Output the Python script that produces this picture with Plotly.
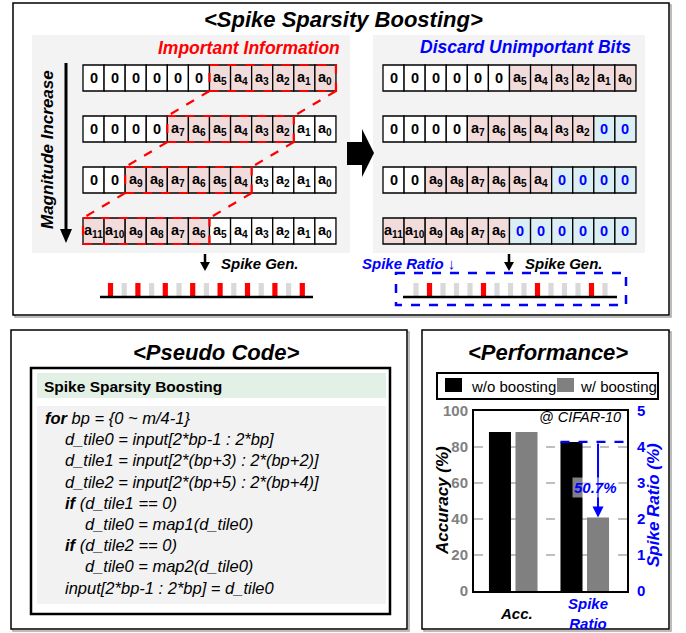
import plotly.graph_objects as go

W, H = 686, 633
FONT = "Liberation Sans, Arial, sans-serif"

# ---------------- data ----------------
N_BITS = 12
ROW_TOP_BIT = [5, 7, 9, 11]          # MSB index of each example word
KEEP_BITS = 6                        # important bits kept per word
LEFT_SPIKES = [1, 0, 1, 0, 1, 0, 1, 0, 1, 0, 1, 0, 1, 0, 1]
RIGHT_SPIKES = [0, 1, 0, 0, 0, 1, 0, 0, 0, 1, 0, 0, 0, 1, 0]

CODE_LINES = [
    "<b>for</b> bp = {0 ~ m/4-1}",
    "d_tile0 = input[2*bp-1 : 2*bp]",
    "d_tile1 = input[2*(bp+3) : 2*(bp+2)]",
    "d_tile2 = input[2*(bp+5) : 2*(bp+4)]",
    "<b>if</b> (d_tile1 == 0)",
    "d_tile0 = map1(d_tile0)",
    "<b>if</b> (d_tile2 == 0)",
    "d_tile0 = map2(d_tile0)",
    "input[2*bp-1 : 2*bp] = d_tile0",
]
CODE_INDENT = [0, 1, 1, 1, 1, 2, 1, 2, 1]

CATEGORIES = ["Acc.", "Spike<br>Ratio"]
SERIES = ["w/o boosting", "w/ boosting"]
ACCURACY = [88.4, 88.4]        # % (w/o, w/)
SPIKE_RATIO = [4.14, 2.04]     # % (w/o, w/)
REDUCTION_LABEL = "50.7%"
ACC_TICKS = [0, 20, 40, 60, 80, 100]
RATIO_TICKS = [0, 1, 2, 3, 4, 5]

# ---------------- styles / layout ----------------
PINK = "#f2dcdb"
LBLUE = "#daeef3"
PANEL = "#f3f3f3"
RED = "#ff0000"
BLUE = "#0000ff"
GRAY = "#808080"
SPIKE_GRAY = "#d9d9d9"

LEFT_X0, RIGHT_X0 = 83, 383
CELL_W, CELL_H = 21.08, 26
ROW_Y0 = [65, 116, 167, 218]

shapes = []
annos = []


def rect(x0, y0, x1, y1, fill=None, line=None, lw=1.0, dash=None, layer="below"):
    d = dict(type="rect", xref="x", yref="y", x0=x0, y0=y0, x1=x1, y1=y1,
             layer=layer, line=dict(width=lw if line else 0, color=line or "rgba(0,0,0,0)"))
    if dash:
        d["line"]["dash"] = dash
    if fill:
        d["fillcolor"] = fill
    shapes.append(d)


def line(x0, y0, x1, y1, color="black", lw=1.0, dash=None, layer="below", xref="x", yref="y"):
    d = dict(type="line", xref=xref, yref=yref, x0=x0, y0=y0, x1=x1, y1=y1, layer=layer,
             line=dict(color=color, width=lw))
    if dash:
        d["line"]["dash"] = dash
    shapes.append(d)


def path(p, fill="black", layer="below"):
    shapes.append(dict(type="path", xref="x", yref="y", path=p, fillcolor=fill,
                       line=dict(width=0), layer=layer))


def text(x, y, t, size=14, color="black", xanchor="center", yanchor="middle", angle=0, **kw):
    a = dict(x=x, y=y, xref=kw.pop("xref", "x"), yref=kw.pop("yref", "y"), text=t,
             showarrow=False, xanchor=xanchor, yanchor=yanchor, textangle=angle,
             font=dict(family=FONT, size=size, color=color))
    a.update(kw)
    annos.append(a)


def box(x0, y0, x1, y1):
    rect(x0 + 2, y0 + 2, x1 + 2, y1 + 2, line="#a6a6a6", lw=1.5)
    rect(x0, y0, x1, y1, fill="white", line="black", lw=1.5)


# ---------- outer boxes ----------
box(13, 3, 669, 315)
box(11, 330, 407, 629)
box(422, 330, 669, 629)

# ---------- top panel ----------
text(343, 19, "<b><i>&lt;Spike Sparsity Boosting&gt;</i></b>", size=22)
rect(32, 35, 350, 253, fill=PANEL)
rect(373, 35, 645, 253, fill=PANEL)
text(249, 48, "<b><i>Important Information</i></b>", size=17.5, color=RED)
text(633, 47, "<b><i>Discard Unimportant Bits</i></b>", size=17.5, color=BLUE, xanchor="right")


def cell_content(r, c, discard):
    top = ROW_TOP_BIT[r]
    bit = N_BITS - 1 - c
    if bit > top:
        return "0", "white", "black"
    if bit > top - KEEP_BITS:
        return "a<sub>%d</sub>" % bit, PINK, "black"
    if discard:
        return "0", LBLUE, BLUE
    return "a<sub>%d</sub>" % bit, "white", "black"


for side, x0 in ((False, LEFT_X0), (True, RIGHT_X0)):
    for r, y0 in enumerate(ROW_Y0):
        for c in range(N_BITS):
            lbl, fill, col = cell_content(r, c, side)
            cx = x0 + c * CELL_W
            rect(cx, y0, cx + CELL_W, y0 + CELL_H, fill=fill, line="black", lw=1.3)
            text(cx + CELL_W / 2, y0 + CELL_H / 2, "<b>%s</b>" % lbl, size=14.5, color=col)

# red dashed "important window" on the left
prev = None
for r, y0 in enumerate(ROW_Y0):
    c0 = N_BITS - 1 - ROW_TOP_BIT[r]
    xa = LEFT_X0 + c0 * CELL_W
    xb = xa + KEEP_BITS * CELL_W
    rect(xa, y0, xb, y0 + CELL_H, line=RED, lw=2.2, dash="dash", layer="above")
    if prev:
        line(prev[0], prev[2], xa, y0, color=RED, lw=2.2, dash="dash", layer="above")
        line(prev[1], prev[2], xb, y0, color=RED, lw=2.2, dash="dash", layer="above")
    prev = (xa, xb, y0 + CELL_H)

# magnitude arrow
line(66, 63, 66, 232, lw=3)
path("M60,229 L72,229 L66,243 Z")
text(47, 150, "<b><i>Magnitude Increase</i></b>", size=17, angle=-90)

# big arrow
path("M347,142 L362,142 L362,129 L374,153 L362,177 L362,165 L347,165 Z")

# spike generation
for ax_ in (205, 509):
    line(ax_, 254, ax_, 264, lw=2.5)
    path("M%d,262 L%d,262 L%d,271 Z" % (ax_ - 5, ax_ + 5, ax_))
text(219, 263, "<b><i>Spike Gen.</i></b>", size=15, xanchor="left")
text(523, 263, "<b><i>Spike Gen.</i></b>", size=15, xanchor="left")
text(360, 263, "<b><i>Spike Ratio \u2193</i></b>", size=15, color=BLUE, xanchor="left")


def spikes(train, x_first, step, base_x0, base_x1):
    for i, s in enumerate(train):
        cx = x_first + i * step
        rect(cx - 2.6, 283, cx + 2.6, 297, fill=RED if s else SPIKE_GRAY)
    line(base_x0, 297, base_x1, 297, lw=2.5)


spikes(LEFT_SPIKES, 110.5, 13.7, 100, 313)
spikes(RIGHT_SPIKES, 416, 13.5, 403, 617)
rect(396, 273, 626, 305, line=BLUE, lw=2.5, dash="dash")

# ---------- pseudo code ----------
text(216, 352, "<b><i>&lt;Pseudo Code&gt;</i></b>", size=22)
rect(31, 368, 390, 614, fill="white", line="black", lw=2.5)
rect(37, 373, 386, 398, fill="#e3f0e6")
text(42, 386, "<b>Spike Sparsity Boosting</b>", size=15.5, xanchor="left")
rect(37, 406, 386, 604, fill="#f2f2f2")
for i, (ln, ind) in enumerate(zip(CODE_LINES, CODE_INDENT)):
    text(43 + 20 * ind, 418 + 21.2 * i, "<i>%s</i>" % ln, size=16.5, xanchor="left")

# ---------- performance ----------
text(548, 352, "<b><i>&lt;Performance&gt;</i></b>", size=22)
rect(437, 373, 658, 399, fill="white", line="black", lw=2)
rect(445, 378, 462, 392, fill="black")
text(469, 386, SERIES[0], size=15, xanchor="left")
rect(557, 378, 574, 392, fill=GRAY)
text(578, 386, SERIES[1], size=15, xanchor="left")

fig = go.Figure()

X_RANGE = [-0.552, 1.587]
BAR_W = 0.308
OFFSETS = [-0.343, 0.028]
COLORS = ["black", GRAY]
for s in range(2):
    fig.add_trace(go.Bar(x=[0], y=[ACCURACY[s]], xaxis="x2", yaxis="y2", width=BAR_W,
                         offset=OFFSETS[s], marker=dict(color=COLORS[s], line=dict(width=0)),
                         name=SERIES[s], showlegend=False))
    fig.add_trace(go.Bar(x=[1], y=[SPIKE_RATIO[s]], xaxis="x2", yaxis="y3", width=BAR_W,
                         offset=OFFSETS[s], marker=dict(color=COLORS[s], line=dict(width=0)),
                         name=SERIES[s], showlegend=False))

# reduction indicator
line(1 + OFFSETS[0], SPIKE_RATIO[0], X_RANGE[1], SPIKE_RATIO[0], color=BLUE, lw=2.2,
     dash="dash", layer="above", xref="x2", yref="y3")
arrow_x = 1 + OFFSETS[1] + BAR_W / 2
annos.append(dict(x=arrow_x, y=SPIKE_RATIO[1], xref="x2", yref="y3", ax=arrow_x,
                  ay=SPIKE_RATIO[0], axref="x2", ayref="y3", text="", showarrow=True,
                  arrowhead=2, arrowsize=1.1, arrowwidth=2, arrowcolor=BLUE, standoff=0))
text(arrow_x - 0.04, 2.88, "<b><i>%s</i></b>" % REDUCTION_LABEL, size=15, color=BLUE,
     xref="x2", yref="y3", bgcolor="rgba(255,255,255,0.5)")
text(X_RANGE[1] - 0.06, 96.5, "<i>@ CIFAR-10</i>", size=14.5, xanchor="right",
     xref="x2", yref="y2")

# category labels
CAT_COLORS = ["black", BLUE]
for i, cat in enumerate(CATEGORIES):
    text(i + (OFFSETS[0] + OFFSETS[1] + BAR_W) / 2 + 0.05, 613, "<b><i>%s</i></b>" % cat,
         size=15, color=CAT_COLORS[i], xref="x2", yref="y")

# axis titles
text(442, 501, "<b><i>Accuracy (%)</i></b>", size=17, angle=-90)
text(653, 505, "<b><i>Spike Ratio (%)</i></b>", size=17, color=BLUE, angle=-90)

PX0, PX1, PY0, PY1 = 474, 627, 411, 591
fig.update_layout(
    width=W, height=H, margin=dict(l=0, r=0, t=0, b=0, pad=0, autoexpand=False),
    paper_bgcolor="white", plot_bgcolor="rgba(0,0,0,0)",
    barmode="overlay", showlegend=False,
    xaxis=dict(domain=[0, 1], range=[0, W], visible=False, fixedrange=True, automargin=False),
    yaxis=dict(domain=[0, 1], range=[H, 0], visible=False, fixedrange=True, automargin=False),
    xaxis2=dict(domain=[PX0 / W, PX1 / W], range=X_RANGE, anchor="y2", showticklabels=False,
                ticks="", showgrid=False, zeroline=False, showline=True, linecolor="black",
                linewidth=2, mirror=True, automargin=False),
    yaxis2=dict(domain=[1 - PY1 / H, 1 - PY0 / H], range=[0, 100], anchor="x2",
                tickvals=ACC_TICKS, ticks="", showgrid=True, gridcolor="#bfbfbf",
                griddash="dash", gridwidth=1.5, zeroline=False, showline=True,
                linecolor="black", linewidth=2, ticklabelstandoff=1, automargin=False,
                tickfont=dict(family=FONT, size=15, color=GRAY, weight="bold")),
    yaxis3=dict(overlaying="y2", side="right", anchor="x2", range=[0, 5], tickvals=RATIO_TICKS,
                ticks="", showgrid=False, zeroline=False, showline=True, linecolor="black",
                linewidth=2, ticklabelstandoff=5, automargin=False,
                tickfont=dict(family=FONT, size=15, color=BLUE, weight="bold")),
    shapes=shapes, annotations=annos,
)

fig.write_html("out.html", config={"displayModeBar": False},
               post_script="document.body.style.margin='0px';document.body.style.overflow='hidden';")
